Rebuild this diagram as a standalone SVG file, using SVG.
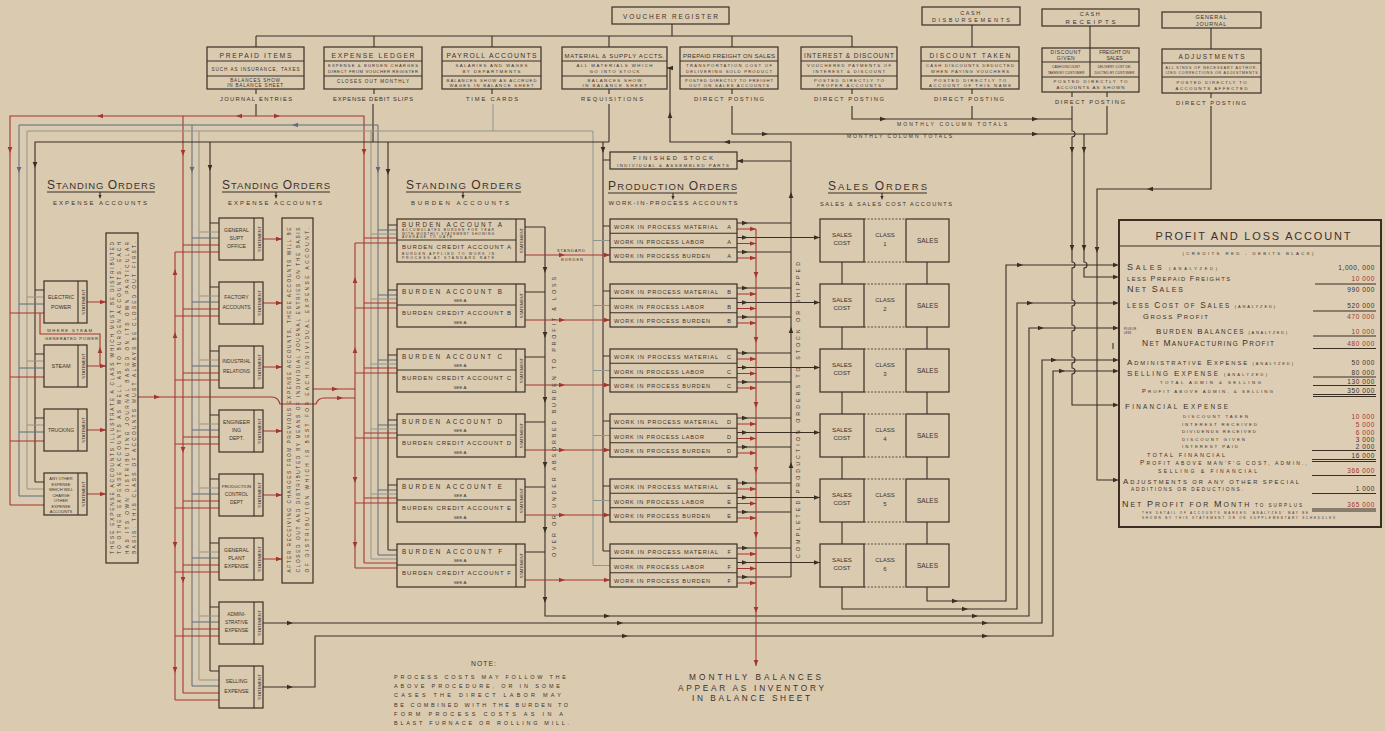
<svg xmlns="http://www.w3.org/2000/svg" width="1385" height="731" viewBox="0 0 1385 731">
<style>
text{font-family:"Liberation Sans",Arial,sans-serif;fill:#3d322a}
.bx{fill:none;stroke:#3b2e25;stroke-width:1.2}
.k{fill:none;stroke:#3b2e25;stroke-width:1.1}
.r{fill:none;stroke:#a5352f;stroke-width:1.1}
.s{fill:none;stroke:#5d6c7c;stroke-width:1}
.g{fill:none;stroke:#8f958f;stroke-width:1}
.d{fill:none;stroke:#3b2e25;stroke-width:0.8;stroke-dasharray:2 1.5}
.fk{fill:#3b2e25}
.fr{fill:#a5352f}
.fs{fill:#5d6c7c}
.m{text-anchor:middle}
.e{text-anchor:end}
.st{font-size:4.3px;text-anchor:middle}
.red{fill:#a5352f}
.n{font-size:6.5px;text-anchor:end;letter-spacing:0.6px}
</style>
<defs>
<path id="a" d="M3,0 L-3,-2.3 L-3,2.3 Z"/>
</defs>
<rect x="0" y="0" width="1385" height="731" fill="#dacab0"/>

<!-- ===== TOP SOURCE BOXES ===== -->
<g id="voucher-register"><rect class="bx" x="612" y="7" width="117" height="17"/><text class="m" x="670.5" y="18.5" font-size="6.5" textLength="95">VOUCHER REGISTER</text></g>
<g id="cash-disbursements"><rect class="bx" x="922" y="7" width="98" height="18"/><text class="m" x="971" y="14.5" font-size="5.5" letter-spacing="1.5">CASH</text><text class="m" x="971" y="22" font-size="5.5" textLength="78">DISBURSEMENTS</text></g>
<g id="cash-receipts"><rect class="bx" x="1042" y="9" width="97" height="17"/><text class="m" x="1090.5" y="16" font-size="5.5" letter-spacing="1.5">CASH</text><text class="m" x="1090.5" y="23.5" font-size="6" textLength="50">RECEIPTS</text></g>
<g id="general-journal"><rect class="bx" x="1162" y="12" width="99" height="16"/><text class="m" x="1211.5" y="18.5" font-size="5.5" letter-spacing="0.8">GENERAL</text><text class="m" x="1211.5" y="26" font-size="5.5" letter-spacing="0.8">JOURNAL</text></g>

<g id="prepaid-items"><rect class="bx" x="207" y="47" width="97" height="42"/><path class="k" d="M207,61H304M207,76H304"/>
<text class="m" x="255.5" y="57.5" font-size="6.8" textLength="72">PREPAID ITEMS</text>
<text class="m" x="255.5" y="70.5" font-size="4.6" textLength="88">SUCH AS INSURANCE, TAXES</text>
<text class="m" x="255.5" y="81.5" font-size="4.6" letter-spacing="0.8">BALANCES SHOW</text>
<text class="m" x="255.5" y="87" font-size="4.6" letter-spacing="0.8">IN BALANCE SHEET</text></g>

<g id="expense-ledger"><rect class="bx" x="324" y="47" width="98" height="42"/><path class="k" d="M324,61H422M324,76H422"/>
<text class="m" x="373" y="57.5" font-size="6.8" textLength="83">EXPENSE LEDGER</text>
<text class="m" x="373" y="67" font-size="4.2" textLength="90">EXPENSE &amp; BURDEN CHARGES</text>
<text class="m" x="373" y="73" font-size="4.2" textLength="90">DIRECT FROM VOUCHER REGISTER</text>
<text class="m" x="373" y="83" font-size="4.6" textLength="72">CLOSES OUT MONTHLY</text></g>

<g id="payroll-accounts"><rect class="bx" x="442" y="47" width="99" height="42"/><path class="k" d="M442,61H541M442,76H541"/>
<text class="m" x="491.5" y="57.5" font-size="6.8" textLength="90">PAYROLL ACCOUNTS</text>
<text class="m" x="491.5" y="67" font-size="4.4" textLength="72">SALARIES AND WAGES</text>
<text class="m" x="491.5" y="73" font-size="4.4" textLength="58">BY DEPARTMENTS</text>
<text class="m" x="491.5" y="81.5" font-size="4.2" textLength="90">BALANCES SHOW AS ACCRUED</text>
<text class="m" x="491.5" y="87" font-size="4.2" textLength="84">WAGES IN BALANCE SHEET</text></g>

<g id="material-supply"><rect class="bx" x="562" y="47" width="105" height="42"/><path class="k" d="M562,61H667M562,76H667"/>
<text class="m" x="614.5" y="57.5" font-size="6" textLength="100">MATERIAL &amp; SUPPLY ACCTS.</text>
<text class="m" x="614.5" y="67" font-size="4.4" textLength="76">ALL MATERIALS WHICH</text>
<text class="m" x="614.5" y="73" font-size="4.4" textLength="50">GO INTO STOCK</text>
<text class="m" x="614.5" y="81.5" font-size="4.4" textLength="54">BALANCES SHOW</text>
<text class="m" x="614.5" y="87" font-size="4.4" textLength="64">IN BALANCE SHEET</text></g>

<g id="prepaid-freight"><rect class="bx" x="680" y="47" width="98" height="42"/><path class="k" d="M680,61H778M680,76H778"/>
<text class="m" x="729" y="57.5" font-size="6" textLength="92">PREPAID FREIGHT ON SALES</text>
<text class="m" x="729" y="67" font-size="4.2" textLength="86">TRANSPORTATION COST OF</text>
<text class="m" x="729" y="73" font-size="4.2" textLength="86">DELIVERING SOLD PRODUCT</text>
<text class="m" x="729" y="81.5" font-size="4.2" textLength="88">POSTED DIRECTLY TO FREIGHT</text>
<text class="m" x="729" y="87" font-size="4.2" textLength="80">OUT ON SALES ACCOUNTS</text></g>

<g id="interest-discount"><rect class="bx" x="801" y="47" width="96" height="42"/><path class="k" d="M801,61H897M801,76H897"/>
<text class="m" x="849" y="57.5" font-size="6.5" textLength="90">INTEREST &amp; DISCOUNT</text>
<text class="m" x="849" y="67" font-size="4.2" textLength="84">VOUCHERED PAYMENTS OF</text>
<text class="m" x="849" y="73" font-size="4.2" textLength="72">INTEREST &amp; DISCOUNT</text>
<text class="m" x="849" y="81.5" font-size="4.2" textLength="70">POSTED DIRECTLY TO</text>
<text class="m" x="849" y="87" font-size="4.2" textLength="64">PROPER ACCOUNTS</text></g>

<g id="discount-taken"><rect class="bx" x="921" y="47" width="98" height="42"/><path class="k" d="M921,61H1019M921,76H1019"/>
<text class="m" x="970" y="57.5" font-size="6.5" textLength="81">DISCOUNT TAKEN</text>
<text class="m" x="970" y="67" font-size="4.2" textLength="88">CASH DISCOUNTS DEDUCTED</text>
<text class="m" x="970" y="73" font-size="4.2" textLength="78">WHEN PAYING VOUCHERS</text>
<text class="m" x="970" y="81.5" font-size="4.2" textLength="72">POSTED DIRECTLY TO</text>
<text class="m" x="970" y="87" font-size="4.2" textLength="82">ACCOUNT OF THIS NAME</text></g>

<g id="cash-receipts-detail"><rect class="bx" x="1042" y="48" width="97" height="44"/><path class="k" d="M1042,62H1139M1042,77H1139M1090,48V77"/>
<text class="m" x="1066" y="54" font-size="5" letter-spacing="0.6">DISCOUNT</text>
<text class="m" x="1066" y="60" font-size="5" letter-spacing="0.6">GIVEN</text>
<text class="m" x="1114.5" y="54" font-size="5">FREIGHT ON</text>
<text class="m" x="1114.5" y="60" font-size="5">SALES</text>
<text class="m" x="1066" y="68" font-size="3.4">CASH DISCOUNT</text>
<text class="m" x="1066" y="73.5" font-size="3.4">TAKEN BY CUSTOMER</text>
<text class="m" x="1114.5" y="68" font-size="3.4">DELIVERY COST DE-</text>
<text class="m" x="1114.5" y="73.5" font-size="3.4">DUCTED BY CUSTOMER</text>
<text class="m" x="1090.5" y="83" font-size="4.4" textLength="74">POSTED DIRECTLY TO</text>
<text class="m" x="1090.5" y="89" font-size="4.4" textLength="68">ACCOUNTS AS SHOWN</text></g>

<g id="adjustments"><rect class="bx" x="1162" y="49" width="99" height="44"/><path class="k" d="M1162,63H1261M1162,77H1261"/>
<text class="m" x="1211.5" y="59" font-size="6.5" textLength="66">ADJUSTMENTS</text>
<text class="m" x="1211.5" y="68.5" font-size="3.5" textLength="92">ALL KINDS OF NECESSARY AUTHOR-</text>
<text class="m" x="1211.5" y="74" font-size="3.5" textLength="92">IZED CORRECTIONS OR ADJUSTMENTS</text>
<text class="m" x="1211.5" y="83.5" font-size="4.3" textLength="70">POSTED DIRECTLY TO</text>
<text class="m" x="1211.5" y="89.5" font-size="4.3" textLength="72">ACCOUNTS AFFECTED</text></g>

<g id="posting-labels" font-size="5.8">
<text class="m" x="256" y="101" textLength="72">JOURNAL ENTRIES</text>
<text class="m" x="373" y="101" textLength="80">EXPENSE DEBIT SLIPS</text>
<text class="m" x="492" y="101" textLength="52">TIME CARDS</text>
<text class="m" x="612" y="101" textLength="62">REQUISITIONS</text>
<text class="m" x="729" y="101" textLength="70">DIRECT POSTING</text>
<text class="m" x="849" y="101" textLength="70">DIRECT POSTING</text>
<text class="m" x="969" y="101" textLength="70">DIRECT POSTING</text>
<text class="m" x="1090" y="104" textLength="70">DIRECT POSTING</text>
<text class="m" x="1211" y="105" textLength="70">DIRECT POSTING</text>
<text x="897" y="126" font-size="5" textLength="110">MONTHLY COLUMN TOTALS</text>
<text x="847" y="138" font-size="5" textLength="105">MONTHLY COLUMN TOTALS</text>
</g>

<!-- ===== SECTION TITLES ===== -->
<g id="title-standing-orders-1">
<text x="47" y="189" font-size="9.5" textLength="108"><tspan font-size="12">S</tspan>TANDING <tspan font-size="12">O</tspan>RDERS</text>
<path class="k" d="M47,192H155M100,192V196"/>
<text class="m" x="100" y="205" font-size="6" textLength="94">EXPENSE ACCOUNTS</text></g>
<g id="title-standing-orders-2">
<text x="222" y="189" font-size="9.5" textLength="108"><tspan font-size="12">S</tspan>TANDING <tspan font-size="12">O</tspan>RDERS</text>
<path class="k" d="M222,192H330M276,192V196"/>
<text class="m" x="275" y="205" font-size="6" textLength="94">EXPENSE ACCOUNTS</text></g>
<g id="title-standing-orders-3">
<text x="406" y="189" font-size="9.5" textLength="115"><tspan font-size="12">S</tspan>TANDING <tspan font-size="12">O</tspan>RDERS</text>
<path class="k" d="M406,192H521M463,192V196"/>
<text class="m" x="460" y="205" font-size="6" textLength="98">BURDEN ACCOUNTS</text></g>
<g id="title-production-orders">
<text x="608" y="190" font-size="9.5" textLength="129"><tspan font-size="12">P</tspan>RODUCTION <tspan font-size="12">O</tspan>RDERS</text>
<path class="k" d="M608,193H737M673,193V197"/>
<text class="m" x="673" y="205" font-size="6" textLength="129">WORK-IN-PROCESS ACCOUNTS</text></g>
<g id="title-sales-orders">
<text x="828" y="190" font-size="9.5" textLength="99"><tspan font-size="12">S</tspan>ALES <tspan font-size="12">O</tspan>RDERS</text>
<path class="k" d="M828,193H927M882,193V197"/>
<text class="m" x="886" y="206" font-size="5.6" textLength="132">SALES &amp; SALES COST ACCOUNTS</text></g>

<!-- ===== CONNECTORS ===== -->
<g id="connectors">
<path class="k" d="M672,24V36M256,36H852M256,36V47M374,36V47M492,36V47M609,36V47M732,36V47M852,36V47M972,25V47M1090,26V48M1211,28V49"/>
<path class="k" d="M256,89V94M374,89V94M492,89V94M609,89V94M732,89V94M852,89V94M972,89V94M1072,92V97M1107,92V97M1211,93V98"/>
<path class="k" d="M256,104V116M373,104V142M609,104V142"/>
<path class="g" d="M493,104V131"/>
<path class="k" d="M852,106V119H1072M972,106V119"/>
<path class="k" d="M1072,106V131a3,3 0 0 1 0,6V262a3,3 0 0 1 0,6V300a3,3 0 0 1 0,6V325a3,3 0 0 1 0,6V357a3,3 0 0 1 0,6V368a3,3 0 0 1 0,6V405H1116"/>
<path class="k" d="M732,106V134H1107V106"/>
<path class="k" d="M1084,134V262a3,3 0 0 1 0,6V277H1116"/>
<path class="k" d="M1211,106V189H1097V480H1116"/>
<path class="k" d="M1113,343V349"/>

<path class="r" d="M10,505V116H364V563"/>
<path class="r" d="M183,116V693"/>
<path class="r" d="M175,252V700"/>
<path class="r" d="M355,243V568"/>
<path class="s" d="M19,496V125H378V555"/>
<path class="s" d="M192,125V686"/>
<path class="g" d="M27,489V131H593V565.5"/>
<path class="g" d="M199,131V680M371,131V559"/>
<path class="k" d="M35,482V142H609"/>
<path class="k" d="M210,142V671M388,142V550M603,142V551"/>

<path class="k" d="M35,290H44M35,354H44M35,418H44M35,482H44"/>
<path class="g" d="M27,297H44M27,361H44M27,425H44M27,489H44"/>
<path class="s" d="M19,304H44M19,368H44M19,432H44M19,496H44"/>
<path class="r" d="M10,313H44M10,377H44M10,441H44M10,505H44"/>
<path class="r" d="M87,302H106M87,366H106M87,430H106M87,494H106"/>
<path class="r" d="M100,366V334H40V313"/>
<path class="r" d="M138,397H272Q278,397 280,404H316Q318,398 324,398H355"/>

<path class="k" d="M210,223H219M210,287H219M210,351H219M210,415H219M210,479H219M210,543H219M210,607H219M210,671H219"/>
<path class="g" d="M199,232H219M199,296H219M199,360H219M199,424H219M199,488H219M199,552H219M199,616H219M199,680H219"/>
<path class="s" d="M192,238H219M192,302H219M192,366H219M192,430H219M192,494H219M192,558H219M192,622H219M192,686H219"/>
<path class="r" d="M183,245H219M183,309H219M183,373H219M183,437H219M183,501H219M183,565H219M183,629H219M183,693H219"/>
<path class="r" d="M175,252H219M175,316H219M175,380H219M175,444H219M175,508H219M175,572H219M175,636H219M175,700H219"/>
<path class="r" d="M263,239H282M263,303H282M263,367H282M263,431H282M263,495H282M263,559H282"/>
<path class="r" d="M313,389H355"/>
<path class="k" d="M263,623H1042V360H1116"/>
<path class="k" d="M263,687H315V636H1053V371H1116"/>

<path class="k" d="M388,225H397M388,290H397M388,355H397M388,420H397M388,485H397M388,550H397"/>
<path class="s" d="M378,230H397M378,295H397M378,360H397M378,425H397M378,490H397M378,555H397"/>
<path class="g" d="M371,234H397M371,299H397M371,364H397M371,429H397M371,494H397M371,559H397"/>
<path class="r" d="M364,238H397M364,303H397M364,368H397M364,433H397M364,498H397M364,563H397"/>
<path class="r" d="M355,243H397M355,308H397M355,373H397M355,438H397M355,503H397M355,568H397"/>
<path class="k" d="M525,227H545M525,292H545M525,357H545M525,422H545M525,487H545M525,552H545"/>
<path class="k" d="M545,227V616H1029V328H1116"/>
<path class="r" d="M525,255H610M525,320H610M525,385H610M525,450H610M525,515H610M525,580H610"/>

<path class="k" d="M603,160H610M603,226H610M603,291H610M603,356H610M603,421H610M603,486H610M603,551H610"/>
<path class="g" d="M593,240.5H610M593,305.5H610M593,370.5H610M593,435.5H610M593,500.5H610M593,565.5H610"/>
<path class="k" d="M737,223H791M737,252H791M737,288H791M737,317H791M737,353H791M737,382H791M737,418H791M737,447H791M737,483H791M737,512H791M737,548H791M737,577H791"/>
<path class="k" d="M737,237.5H820M737,302.5H820M737,367.5H820M737,432.5H820M737,497.5H820M737,562.5H820"/>
<path class="r" d="M737,229H756M737,243.5H756M737,258H756M737,294H756M737,308.5H756M737,323H756M737,359H756M737,373.5H756M737,388H756M737,424H756M737,438.5H756M737,453H756M737,489H756M737,503.5H756M737,518H756M737,554H756M737,568.5H756M737,583H756"/>
<path class="r" d="M756,229V666"/>
<path class="k" d="M791,577V142H670V68H667M791,161H737"/>

<path class="k" d="M842,262V284M842,327V349M842,392V414M842,457V479M842,522V544M927,262V284M927,327V349M927,392V414M927,457V479M927,522V544"/>
<path class="k" d="M842,587V609H1017V303H1116"/>
<path class="k" d="M927,587V601H1006V265H1116"/>

<g class="fr">
<use href="#a" transform="translate(10,150) rotate(90)"/>
<use href="#a" transform="translate(364,152) rotate(90)"/>
<use href="#a" transform="translate(183,153) rotate(90)"/>
<use href="#a" transform="translate(183,450) rotate(90)"/>
<use href="#a" transform="translate(183,580) rotate(90)"/>
<use href="#a" transform="translate(100,116) rotate(180)"/>
<use href="#a" transform="translate(239,116) rotate(180)"/>
<use href="#a" transform="translate(277,116)"/>
<use href="#a" transform="translate(175,272) rotate(-90)"/>
<use href="#a" transform="translate(175,335) rotate(-90)"/>
<use href="#a" transform="translate(175,545) rotate(90)"/>
<use href="#a" transform="translate(175,670) rotate(90)"/>
<use href="#a" transform="translate(355,280) rotate(-90)"/>
<use href="#a" transform="translate(355,350) rotate(-90)"/>
<use href="#a" transform="translate(355,480) rotate(90)"/>
<use href="#a" transform="translate(355,545) rotate(90)"/>
<use href="#a" transform="translate(103,302)"/>
<use href="#a" transform="translate(103,366)"/>
<use href="#a" transform="translate(103,430)"/>
<use href="#a" transform="translate(103,494)"/>
<use href="#a" transform="translate(100,350) rotate(-90)"/>
<use href="#a" transform="translate(157,397)"/>
<use href="#a" transform="translate(340,398)"/>
<use href="#a" transform="translate(335,389)"/>
<use href="#a" transform="translate(279,239)"/>
<use href="#a" transform="translate(279,303)"/>
<use href="#a" transform="translate(279,367)"/>
<use href="#a" transform="translate(279,431)"/>
<use href="#a" transform="translate(279,495)"/>
<use href="#a" transform="translate(279,559)"/>
<use href="#a" transform="translate(562,255)"/><use href="#a" transform="translate(607,255)"/>
<use href="#a" transform="translate(562,320)"/><use href="#a" transform="translate(607,320)"/>
<use href="#a" transform="translate(562,385)"/><use href="#a" transform="translate(607,385)"/>
<use href="#a" transform="translate(562,450)"/><use href="#a" transform="translate(607,450)"/>
<use href="#a" transform="translate(562,515)"/><use href="#a" transform="translate(607,515)"/>
<use href="#a" transform="translate(562,580)"/><use href="#a" transform="translate(607,580)"/>
<use href="#a" transform="translate(753,229)"/><use href="#a" transform="translate(753,243.5)"/><use href="#a" transform="translate(753,258)"/>
<use href="#a" transform="translate(753,294)"/><use href="#a" transform="translate(753,308.5)"/><use href="#a" transform="translate(753,323)"/>
<use href="#a" transform="translate(753,359)"/><use href="#a" transform="translate(753,373.5)"/><use href="#a" transform="translate(753,388)"/>
<use href="#a" transform="translate(753,424)"/><use href="#a" transform="translate(753,438.5)"/><use href="#a" transform="translate(753,453)"/>
<use href="#a" transform="translate(753,489)"/><use href="#a" transform="translate(753,503.5)"/><use href="#a" transform="translate(753,518)"/>
<use href="#a" transform="translate(753,554)"/><use href="#a" transform="translate(753,568.5)"/><use href="#a" transform="translate(753,583)"/>
<use href="#a" transform="translate(756,275) rotate(90)"/>
<use href="#a" transform="translate(756,340) rotate(90)"/>
<use href="#a" transform="translate(756,405) rotate(90)"/>
<use href="#a" transform="translate(756,470) rotate(90)"/>
<use href="#a" transform="translate(756,535) rotate(90)"/>
<use href="#a" transform="translate(756,610) rotate(90)"/>
<use href="#a" transform="translate(756,663) rotate(90)"/>
</g>
<g class="fs">
<use href="#a" transform="translate(295,125) rotate(180)"/>
<use href="#a" transform="translate(19,170) rotate(90)"/>
<use href="#a" transform="translate(192,170) rotate(90)"/>
<use href="#a" transform="translate(378,170) rotate(90)"/>
</g>
<g class="fk">
<use href="#a" transform="translate(35,165) rotate(90)"/>
<use href="#a" transform="translate(210,168) rotate(90)"/>
<use href="#a" transform="translate(388,172) rotate(90)"/>
<use href="#a" transform="translate(603,150) rotate(90)"/>
<use href="#a" transform="translate(290,623)"/><use href="#a" transform="translate(620,623)"/><use href="#a" transform="translate(985,623)"/><use href="#a" transform="translate(1054,360)"/>
<use href="#a" transform="translate(290,687)"/><use href="#a" transform="translate(625,636)"/><use href="#a" transform="translate(985,636)"/><use href="#a" transform="translate(1062,371)"/>
<use href="#a" transform="translate(545,270) rotate(90)"/>
<use href="#a" transform="translate(545,335) rotate(90)"/>
<use href="#a" transform="translate(545,400) rotate(90)"/>
<use href="#a" transform="translate(545,465) rotate(90)"/>
<use href="#a" transform="translate(545,530) rotate(90)"/>
<use href="#a" transform="translate(545,600) rotate(90)"/>
<use href="#a" transform="translate(607,616)"/><use href="#a" transform="translate(975,616)"/><use href="#a" transform="translate(1041,328)"/>
<use href="#a" transform="translate(791,195) rotate(-90)"/>
<use href="#a" transform="translate(791,330) rotate(-90)"/>
<use href="#a" transform="translate(791,465) rotate(-90)"/>
<use href="#a" transform="translate(727,142) rotate(180)"/>
<use href="#a" transform="translate(670,115) rotate(-90)"/>
<use href="#a" transform="translate(670,68) rotate(180)"/>
<use href="#a" transform="translate(740,161) rotate(180)"/>
<use href="#a" transform="translate(745,223)"/><use href="#a" transform="translate(745,237.5)"/><use href="#a" transform="translate(745,252)"/>
<use href="#a" transform="translate(745,288)"/><use href="#a" transform="translate(745,302.5)"/><use href="#a" transform="translate(745,317)"/>
<use href="#a" transform="translate(745,353)"/><use href="#a" transform="translate(745,367.5)"/><use href="#a" transform="translate(745,382)"/>
<use href="#a" transform="translate(745,418)"/><use href="#a" transform="translate(745,432.5)"/><use href="#a" transform="translate(745,447)"/>
<use href="#a" transform="translate(745,483)"/><use href="#a" transform="translate(745,497.5)"/><use href="#a" transform="translate(745,512)"/>
<use href="#a" transform="translate(745,548)"/><use href="#a" transform="translate(745,562.5)"/><use href="#a" transform="translate(745,577)"/>
<use href="#a" transform="translate(817,237.5)"/><use href="#a" transform="translate(817,302.5)"/><use href="#a" transform="translate(817,367.5)"/>
<use href="#a" transform="translate(817,432.5)"/><use href="#a" transform="translate(817,497.5)"/><use href="#a" transform="translate(817,562.5)"/>
<use href="#a" transform="translate(955,601)"/><use href="#a" transform="translate(965,609)"/><use href="#a" transform="translate(1020,265)"/><use href="#a" transform="translate(1030,303)"/>
<use href="#a" transform="translate(883,119)"/><use href="#a" transform="translate(1035,119)"/>
<use href="#a" transform="translate(765,134)"/><use href="#a" transform="translate(1035,134)"/>
<use href="#a" transform="translate(1072,150) rotate(90)"/><use href="#a" transform="translate(1072,248) rotate(90)"/>
<use href="#a" transform="translate(1084,150) rotate(90)"/><use href="#a" transform="translate(1084,248) rotate(90)"/>
<use href="#a" transform="translate(1150,189) rotate(180)"/><use href="#a" transform="translate(1097,250) rotate(90)"/>
<use href="#a" transform="translate(1116,265)"/><use href="#a" transform="translate(1116,277)"/><use href="#a" transform="translate(1116,303)"/><use href="#a" transform="translate(1116,328)"/>
<use href="#a" transform="translate(1116,360)"/><use href="#a" transform="translate(1116,371)"/><use href="#a" transform="translate(1116,405)"/><use href="#a" transform="translate(1116,480)"/>
<use href="#a" transform="translate(100,197) rotate(90) scale(0.7)"/>
<use href="#a" transform="translate(276,197) rotate(90) scale(0.7)"/>
<use href="#a" transform="translate(463,197) rotate(90) scale(0.7)"/>
<use href="#a" transform="translate(673,198) rotate(90) scale(0.7)"/>
<use href="#a" transform="translate(882,198) rotate(90) scale(0.7)"/>
</g>
</g>

<!-- ===== STANDING ORDERS 1 ===== -->
<g id="electric-power"><rect class="bx" x="44" y="281" width="43" height="42" fill="#dacab0"/><path class="k" d="M78,281V323"/><text class="m" x="61" y="299" font-size="5.3">ELECTRIC</text><text class="m" x="61" y="309" font-size="5.3">POWER</text><text class="st" transform="translate(85,302) rotate(-90)">STATEMENT</text></g>
<text x="47" y="331.5" font-size="4.2" textLength="45">WHERE STEAM</text>
<text x="45" y="340" font-size="4.2" textLength="53">GENERATED POWER</text>
<g id="steam"><rect class="bx" x="44" y="345" width="43" height="42"/><path class="k" d="M78,345V387"/><text class="m" x="61" y="368" font-size="5.5">STEAM</text><text class="st" transform="translate(85,366) rotate(-90)">STATEMENT</text></g>
<g id="trucking"><rect class="bx" x="44" y="409" width="43" height="42"/><path class="k" d="M78,409V451"/><text class="m" x="61" y="432" font-size="5">TRUCKING</text><text class="st" transform="translate(85,430) rotate(-90)">STATEMENT</text></g>
<g id="any-other-expense"><rect class="bx" x="44" y="473" width="43" height="42"/><path class="k" d="M78,473V515"/>
<text class="m" x="61" y="480" font-size="4">ANY OTHER</text><text class="m" x="61" y="485.5" font-size="4">EXPENSE</text><text class="m" x="61" y="491" font-size="4">WHICH WILL</text><text class="m" x="61" y="496.5" font-size="4">CHARGE</text><text class="m" x="61" y="502" font-size="4">OTHER</text><text class="m" x="61" y="507.5" font-size="4">EXPENSE</text><text class="m" x="61" y="513" font-size="4">ACCOUNTS</text>
<text class="st" transform="translate(85,494) rotate(-90)">STATEMENT</text></g>
<g id="note-box-1"><rect class="bx" x="106" y="233" width="32" height="330" fill="#dacab0"/>
<text class="m" transform="translate(114,398) rotate(-90)" font-size="4.8" textLength="312">THESE EXPENSE ACCOUNTS ILLUSTRATE A CLASS WHICH MUST BE DISTRIBUTED</text>
<text class="m" transform="translate(121.3,398) rotate(-90)" font-size="4.8" textLength="312">TO OTHER EXPENSE ACCOUNTS AS WELL AS TO BURDEN ACCOUNTS. EACH</text>
<text class="m" transform="translate(128.6,398) rotate(-90)" font-size="4.8" textLength="312">HAS ITS OWN DISTRIBUTING JOURNAL BASED ON ITS OWN PARTICULAR</text>
<text class="m" transform="translate(135.9,398) rotate(-90)" font-size="4.8" textLength="312">BASIS. THIS CLASS OF ACCOUNTS MUST ALWAYS BE CLOSED OUT FIRST.</text></g>

<!-- ===== STANDING ORDERS 2 ===== -->
<g id="general-supt-office"><rect class="bx" x="219" y="218" width="44" height="42"/><path class="k" d="M254,218V260"/><text class="m" x="236.5" y="232" font-size="5.2">GENERAL</text><text class="m" x="236.5" y="240" font-size="5.2">SUPT</text><text class="m" x="236.5" y="248" font-size="5.2">OFFICE</text><text class="st" transform="translate(261,239) rotate(-90)">STATEMENT</text></g>
<g id="factory-accounts"><rect class="bx" x="219" y="282" width="44" height="42"/><path class="k" d="M254,282V324"/><text class="m" x="236.5" y="299" font-size="5.2">FACTORY</text><text class="m" x="236.5" y="309" font-size="5">ACCOUNTS</text><text class="st" transform="translate(261,303) rotate(-90)">STATEMENT</text></g>
<g id="industrial-relations"><rect class="bx" x="219" y="346" width="44" height="42"/><path class="k" d="M254,346V388"/><text class="m" x="236.5" y="363" font-size="4.8">INDUSTRIAL</text><text class="m" x="236.5" y="373" font-size="4.8">RELATIONS</text><text class="st" transform="translate(261,367) rotate(-90)">STATEMENT</text></g>
<g id="engineering-dept"><rect class="bx" x="219" y="410" width="44" height="42"/><path class="k" d="M254,410V452"/><text class="m" x="236.5" y="424" font-size="5.2">ENGINEER</text><text class="m" x="236.5" y="432" font-size="5.2">ING</text><text class="m" x="236.5" y="440" font-size="5.2">DEPT.</text><text class="st" transform="translate(261,431) rotate(-90)">STATEMENT</text></g>
<g id="production-control-dept"><rect class="bx" x="219" y="474" width="44" height="42"/><path class="k" d="M254,474V516"/><text class="m" x="236.5" y="488" font-size="4.4">PRODUCTION</text><text class="m" x="236.5" y="496" font-size="4.8">CONTROL</text><text class="m" x="236.5" y="504" font-size="4.8">DEPT</text><text class="st" transform="translate(261,495) rotate(-90)">STATEMENT</text></g>
<g id="general-plant-expense"><rect class="bx" x="219" y="538" width="44" height="42"/><path class="k" d="M254,538V580"/><text class="m" x="236.5" y="552" font-size="5.2">GENERAL</text><text class="m" x="236.5" y="560" font-size="5.2">PLANT</text><text class="m" x="236.5" y="568" font-size="5.2">EXPENSE</text><text class="st" transform="translate(261,559) rotate(-90)">STATEMENT</text></g>
<g id="administrative-expense"><rect class="bx" x="219" y="602" width="44" height="42"/><path class="k" d="M254,602V644"/><text class="m" x="236.5" y="616" font-size="4.8">ADMINI-</text><text class="m" x="236.5" y="624" font-size="4.8">STRATIVE</text><text class="m" x="236.5" y="632" font-size="5">EXPENSE</text><text class="st" transform="translate(261,623) rotate(-90)">STATEMENT</text></g>
<g id="selling-expense"><rect class="bx" x="219" y="666" width="44" height="42"/><path class="k" d="M254,666V708"/><text class="m" x="236.5" y="683" font-size="5.2">SELLING</text><text class="m" x="236.5" y="693" font-size="5.2">EXPENSE</text><text class="st" transform="translate(261,687) rotate(-90)">STATEMENT</text></g>
<g id="note-box-2"><rect class="bx" x="282" y="218" width="31" height="365" fill="#dacab0"/>
<text class="m" transform="translate(291,400) rotate(-90)" font-size="4.8" textLength="345">AFTER RECEIVING CHARGES FROM PREVIOUS EXPENSE ACCOUNTS, THESE ACCOUNTS WILL BE</text>
<text class="m" transform="translate(300,400) rotate(-90)" font-size="4.8" textLength="345">CLOSED OUT AND DISTRIBUTED BY MEANS OF INDIVIDUAL JOURNAL ENTRIES ON THE BASIS</text>
<text class="m" transform="translate(309,400) rotate(-90)" font-size="4.8" textLength="345">OF DISTRIBUTION WHICH IS BEST FOR EACH INDIVIDUAL EXPENSE ACCOUNT.</text></g>

<!-- ===== STANDING ORDERS 3 : BURDEN ===== -->
<g id="burden-a"><rect class="bx" x="397" y="219" width="128" height="43" fill="#dacab0"/><path class="k" d="M516,219V262M397,240H516"/>
<text x="402" y="226.5" font-size="6.3" textLength="100">BURDEN ACCOUNT  A</text>
<text x="402" y="231" font-size="3.3" textLength="92">ACCUMULATES BURDEN FOR YEAR</text>
<text x="402" y="234.5" font-size="3.3" textLength="92">WITH MONTHLY STATEMENT SHOWING</text>
<text x="402" y="238" font-size="3.3" textLength="50">AVERAGE TO DATE</text>
<text x="402" y="248.5" font-size="6" textLength="109">BURDEN CREDIT ACCOUNT  A</text>
<text x="402" y="254.5" font-size="3.5" textLength="92">BURDEN APPLIED TO WORK IN</text>
<text x="402" y="258.8" font-size="3.5" textLength="92">PROCESS AT STANDARD RATE</text>
<text class="st" transform="translate(523,240.5) rotate(-90)">STATEMENT</text></g>
<g id="burden-b"><rect class="bx" x="397" y="284" width="128" height="43" fill="#dacab0"/><path class="k" d="M516,284V327M397,305H516"/>
<text x="402" y="293.5" font-size="6.3" textLength="100">BURDEN ACCOUNT  B</text><text class="m" x="460" y="302" font-size="4.4">SEE A</text>
<text x="402" y="315" font-size="6" textLength="109">BURDEN CREDIT ACCOUNT  B</text><text class="m" x="460" y="324" font-size="4.4">SEE A</text>
<text class="st" transform="translate(523,305.5) rotate(-90)">STATEMENT</text></g>
<g id="burden-c"><rect class="bx" x="397" y="349" width="128" height="43" fill="#dacab0"/><path class="k" d="M516,349V392M397,370H516"/>
<text x="402" y="358.5" font-size="6.3" textLength="100">BURDEN ACCOUNT  C</text><text class="m" x="460" y="367" font-size="4.4">SEE A</text>
<text x="402" y="380" font-size="6" textLength="109">BURDEN CREDIT ACCOUNT  C</text><text class="m" x="460" y="389" font-size="4.4">SEE A</text>
<text class="st" transform="translate(523,370.5) rotate(-90)">STATEMENT</text></g>
<g id="burden-d"><rect class="bx" x="397" y="414" width="128" height="43" fill="#dacab0"/><path class="k" d="M516,414V457M397,435H516"/>
<text x="402" y="423.5" font-size="6.3" textLength="100">BURDEN ACCOUNT  D</text><text class="m" x="460" y="432" font-size="4.4">SEE A</text>
<text x="402" y="445" font-size="6" textLength="109">BURDEN CREDIT ACCOUNT  D</text><text class="m" x="460" y="454" font-size="4.4">SEE A</text>
<text class="st" transform="translate(523,435.5) rotate(-90)">STATEMENT</text></g>
<g id="burden-e"><rect class="bx" x="397" y="479" width="128" height="43" fill="#dacab0"/><path class="k" d="M516,479V522M397,500H516"/>
<text x="402" y="488.5" font-size="6.3" textLength="100">BURDEN ACCOUNT  E</text><text class="m" x="460" y="497" font-size="4.4">SEE A</text>
<text x="402" y="510" font-size="6" textLength="109">BURDEN CREDIT ACCOUNT  E</text><text class="m" x="460" y="519" font-size="4.4">SEE A</text>
<text class="st" transform="translate(523,500.5) rotate(-90)">STATEMENT</text></g>
<g id="burden-f"><rect class="bx" x="397" y="544" width="128" height="43" fill="#dacab0"/><path class="k" d="M516,544V587M397,565H516"/>
<text x="402" y="553.5" font-size="6.3" textLength="100">BURDEN ACCOUNT  F</text><text class="m" x="460" y="562" font-size="4.4">SEE A</text>
<text x="402" y="575" font-size="6" textLength="109">BURDEN CREDIT ACCOUNT  F</text><text class="m" x="460" y="584" font-size="4.4">SEE A</text>
<text class="st" transform="translate(523,565.5) rotate(-90)">STATEMENT</text></g>
<text x="557" y="252" font-size="4" textLength="28">STANDARD</text>
<text x="561" y="261" font-size="4" textLength="22">BURDEN</text>
<text class="m" transform="translate(556,417) rotate(-90)" font-size="5.3" textLength="280">OVER OR UNDER ABSORBED BURDEN TO PROFIT &amp; LOSS</text>

<!-- ===== PRODUCTION ORDERS ===== -->
<g id="finished-stock"><rect class="bx" x="610" y="152" width="127" height="17" fill="#dacab0"/><text class="m" x="673" y="159.5" font-size="5.8" textLength="80">FINISHED STOCK</text><text class="m" x="673" y="166.5" font-size="4.4" textLength="112">INDIVIDUAL &amp; ASSEMBLED PARTS</text></g>
<g id="wip-a"><rect class="bx" x="610" y="219" width="127" height="43" fill="#dacab0"/><path class="k" d="M610,233.3H737M610,247.7H737"/>
<text x="614" y="229" font-size="5.6" textLength="104">WORK IN PROCESS MATERIAL</text><text class="e" x="731" y="229" font-size="5.6">A</text>
<text x="614" y="243.5" font-size="5.6" textLength="90">WORK IN PROCESS LABOR</text><text class="e" x="731" y="243.5" font-size="5.6">A</text>
<text x="614" y="258" font-size="5.6" textLength="96">WORK IN PROCESS BURDEN</text><text class="e" x="731" y="258" font-size="5.6">A</text></g>
<g id="wip-b"><rect class="bx" x="610" y="284" width="127" height="43" fill="#dacab0"/><path class="k" d="M610,298.3H737M610,312.7H737"/>
<text x="614" y="294" font-size="5.6" textLength="104">WORK IN PROCESS MATERIAL</text><text class="e" x="731" y="294" font-size="5.6">B</text>
<text x="614" y="308.5" font-size="5.6" textLength="90">WORK IN PROCESS LABOR</text><text class="e" x="731" y="308.5" font-size="5.6">B</text>
<text x="614" y="323" font-size="5.6" textLength="96">WORK IN PROCESS BURDEN</text><text class="e" x="731" y="323" font-size="5.6">B</text></g>
<g id="wip-c"><rect class="bx" x="610" y="349" width="127" height="43" fill="#dacab0"/><path class="k" d="M610,363.3H737M610,377.7H737"/>
<text x="614" y="359" font-size="5.6" textLength="104">WORK IN PROCESS MATERIAL</text><text class="e" x="731" y="359" font-size="5.6">C</text>
<text x="614" y="373.5" font-size="5.6" textLength="90">WORK IN PROCESS LABOR</text><text class="e" x="731" y="373.5" font-size="5.6">C</text>
<text x="614" y="388" font-size="5.6" textLength="96">WORK IN PROCESS BURDEN</text><text class="e" x="731" y="388" font-size="5.6">C</text></g>
<g id="wip-d"><rect class="bx" x="610" y="414" width="127" height="43" fill="#dacab0"/><path class="k" d="M610,428.3H737M610,442.7H737"/>
<text x="614" y="424" font-size="5.6" textLength="104">WORK IN PROCESS MATERIAL</text><text class="e" x="731" y="424" font-size="5.6">D</text>
<text x="614" y="438.5" font-size="5.6" textLength="90">WORK IN PROCESS LABOR</text><text class="e" x="731" y="438.5" font-size="5.6">D</text>
<text x="614" y="453" font-size="5.6" textLength="96">WORK IN PROCESS BURDEN</text><text class="e" x="731" y="453" font-size="5.6">D</text></g>
<g id="wip-e"><rect class="bx" x="610" y="479" width="127" height="43" fill="#dacab0"/><path class="k" d="M610,493.3H737M610,507.7H737"/>
<text x="614" y="489" font-size="5.6" textLength="104">WORK IN PROCESS MATERIAL</text><text class="e" x="731" y="489" font-size="5.6">E</text>
<text x="614" y="503.5" font-size="5.6" textLength="90">WORK IN PROCESS LABOR</text><text class="e" x="731" y="503.5" font-size="5.6">E</text>
<text x="614" y="518" font-size="5.6" textLength="96">WORK IN PROCESS BURDEN</text><text class="e" x="731" y="518" font-size="5.6">E</text></g>
<g id="wip-f"><rect class="bx" x="610" y="544" width="127" height="43" fill="#dacab0"/><path class="k" d="M610,558.3H737M610,572.7H737"/>
<text x="614" y="554" font-size="5.6" textLength="104">WORK IN PROCESS MATERIAL</text><text class="e" x="731" y="554" font-size="5.6">F</text>
<text x="614" y="568.5" font-size="5.6" textLength="90">WORK IN PROCESS LABOR</text><text class="e" x="731" y="568.5" font-size="5.6">F</text>
<text x="614" y="583" font-size="5.6" textLength="96">WORK IN PROCESS BURDEN</text><text class="e" x="731" y="583" font-size="5.6">F</text></g>
<text class="m" transform="translate(800,410) rotate(-90)" font-size="5.3" textLength="296">COMPLETED PRODUCTION ORDERS TO STOCK OR SHIPPED</text>

<!-- ===== SALES ORDERS ===== -->
<g id="sales-class-1"><rect class="bx" x="820" y="219" width="44" height="43"/><path class="d" d="M864,219H906M864,262H906"/><rect class="bx" x="906" y="219" width="43" height="43"/>
<text class="m" x="842" y="237" font-size="6.2">SALES</text><text class="m" x="842" y="245" font-size="6.2">COST</text><text class="m" x="885" y="237" font-size="6">CLASS</text><text class="m" x="885" y="246" font-size="6">1</text><text class="m" x="927.5" y="243" font-size="6.5">SALES</text></g>
<g id="sales-class-2"><rect class="bx" x="820" y="284" width="44" height="43"/><path class="d" d="M864,284H906M864,327H906"/><rect class="bx" x="906" y="284" width="43" height="43"/>
<text class="m" x="842" y="302" font-size="6.2">SALES</text><text class="m" x="842" y="310" font-size="6.2">COST</text><text class="m" x="885" y="302" font-size="6">CLASS</text><text class="m" x="885" y="311" font-size="6">2</text><text class="m" x="927.5" y="308" font-size="6.5">SALES</text></g>
<g id="sales-class-3"><rect class="bx" x="820" y="349" width="44" height="43"/><path class="d" d="M864,349H906M864,392H906"/><rect class="bx" x="906" y="349" width="43" height="43"/>
<text class="m" x="842" y="367" font-size="6.2">SALES</text><text class="m" x="842" y="375" font-size="6.2">COST</text><text class="m" x="885" y="367" font-size="6">CLASS</text><text class="m" x="885" y="376" font-size="6">3</text><text class="m" x="927.5" y="373" font-size="6.5">SALES</text></g>
<g id="sales-class-4"><rect class="bx" x="820" y="414" width="44" height="43"/><path class="d" d="M864,414H906M864,457H906"/><rect class="bx" x="906" y="414" width="43" height="43"/>
<text class="m" x="842" y="432" font-size="6.2">SALES</text><text class="m" x="842" y="440" font-size="6.2">COST</text><text class="m" x="885" y="432" font-size="6">CLASS</text><text class="m" x="885" y="441" font-size="6">4</text><text class="m" x="927.5" y="438" font-size="6.5">SALES</text></g>
<g id="sales-class-5"><rect class="bx" x="820" y="479" width="44" height="43"/><path class="d" d="M864,479H906M864,522H906"/><rect class="bx" x="906" y="479" width="43" height="43"/>
<text class="m" x="842" y="497" font-size="6.2">SALES</text><text class="m" x="842" y="505" font-size="6.2">COST</text><text class="m" x="885" y="497" font-size="6">CLASS</text><text class="m" x="885" y="506" font-size="6">5</text><text class="m" x="927.5" y="503" font-size="6.5">SALES</text></g>
<g id="sales-class-6"><rect class="bx" x="820" y="544" width="44" height="43"/><path class="d" d="M864,544H906M864,587H906"/><rect class="bx" x="906" y="544" width="43" height="43"/>
<text class="m" x="842" y="562" font-size="6.2">SALES</text><text class="m" x="842" y="570" font-size="6.2">COST</text><text class="m" x="885" y="562" font-size="6">CLASS</text><text class="m" x="885" y="571" font-size="6">6</text><text class="m" x="927.5" y="568" font-size="6.5">SALES</text></g>

<!-- ===== PROFIT AND LOSS ===== -->
<g id="profit-and-loss">
<rect x="1119" y="220" width="262" height="307" fill="#dccdb4" stroke="#3b2e25" stroke-width="2"/>
<path class="k" d="M1119,246H1381"/>
<text class="m" x="1253" y="240" font-size="11" textLength="195">PROFIT AND LOSS ACCOUNT</text>
<text class="m" x="1248" y="254.5" font-size="4.4" textLength="131">(CREDITS RED - DEBITS BLACK)</text>
<text x="1127" y="270" font-size="7" textLength="90"><tspan font-size="9">S</tspan>ALES <tspan font-size="4">(ANALYZED)</tspan></text>
<text x="1127" y="281" font-size="5.8" textLength="103">LESS <tspan font-size="7.3">P</tspan>REPAID <tspan font-size="7.3">F</tspan>REIGHTS</text>
<text x="1127" y="292" font-size="7" textLength="56"><tspan font-size="9">N</tspan>ET <tspan font-size="9">S</tspan>ALES</text>
<text x="1127" y="308" font-size="6.3" textLength="148">LESS <tspan font-size="8.3">C</tspan>OST OF <tspan font-size="8.3">S</tspan>ALES <tspan font-size="4">(ANALYZED)</tspan></text>
<text x="1143" y="319" font-size="6" textLength="65"><tspan font-size="7.5">G</tspan>ROSS <tspan font-size="7.5">P</tspan>ROFIT</text>
<text x="1124" y="329.5" font-size="2.8">PLUS OR</text><text x="1124" y="333.5" font-size="2.8">LESS</text>
<text x="1156" y="334" font-size="6.3" textLength="131"><tspan font-size="8">B</tspan>URDEN <tspan font-size="8">B</tspan>ALANCES <tspan font-size="4">(ANALYZED)</tspan></text>
<text x="1142" y="346" font-size="6.5" textLength="132"><tspan font-size="8.5">N</tspan>ET <tspan font-size="8.5">M</tspan>ANUFACTURING <tspan font-size="8.5">P</tspan>ROFIT</text>
<text x="1127" y="365" font-size="5.8" textLength="166"><tspan font-size="8">A</tspan>DMINISTRATIVE <tspan font-size="8">E</tspan>XPENSE <tspan font-size="4">(ANALYZED)</tspan></text>
<text x="1127" y="375.5" font-size="6.3" textLength="140"><tspan font-size="8">S</tspan>ELLING <tspan font-size="8">E</tspan>XPENSE <tspan font-size="4">(ANALYZED)</tspan></text>
<text x="1160" y="383.5" font-size="4.4" textLength="101">TOTAL ADMIN &amp; SELLING</text>
<text x="1142" y="392.5" font-size="4.4" textLength="131"><tspan font-size="5.8">P</tspan>ROFIT ABOVE ADMIN. &amp; SELLING</text>
<text x="1125" y="409" font-size="6.3" textLength="103"><tspan font-size="8">F</tspan>INANCIAL <tspan font-size="8">E</tspan>XPENSE</text>
<text x="1183" y="417.5" font-size="4.4" textLength="65">DISCOUNT TAKEN</text>
<text x="1182" y="425.5" font-size="4.4" textLength="75">INTEREST RECEIVED</text>
<text x="1182" y="433" font-size="4.4" textLength="74">DIVIDENDS RECEIVED</text>
<text x="1182" y="440.5" font-size="4.4" textLength="63">DISCOUNT GIVEN</text>
<text x="1182" y="448" font-size="4.4" textLength="56">INTEREST PAID</text>
<text x="1147" y="457" font-size="5.6" textLength="78">TOTAL FINANCIAL</text>
<text x="1140" y="465" font-size="5" textLength="167"><tspan font-size="6.3">P</tspan>ROFIT ABOVE MAN'F'G COST, ADMIN.,</text>
<text x="1158" y="472.5" font-size="5" textLength="99">SELLING &amp; FINANCIAL</text>
<text x="1123" y="484" font-size="5.8" textLength="176"><tspan font-size="8">A</tspan>DJUSTMENTS OR ANY OTHER SPECIAL</text>
<text x="1131" y="491" font-size="4.8" textLength="112">ADDITIONS OR DEDUCTIONS.</text>
<text x="1122" y="507" font-size="7" textLength="180"><tspan font-size="9">N</tspan>ET <tspan font-size="9">P</tspan>ROFIT FOR <tspan font-size="9">M</tspan>ONTH <tspan font-size="4.6">TO SURPLUS</tspan></text>
<text x="1142" y="513.5" font-size="3" textLength="166">THE DETAIL OF ACCOUNTS MARKED 'ANALYZED' MAY BE</text>
<text x="1142" y="518.5" font-size="3" textLength="193">SHOWN BY THIS STATEMENT OR ON SUPPLEMENTARY SCHEDULES</text>
<text class="n" x="1375" y="270">1,000, 000</text>
<text class="n red" x="1375" y="281">10 000</text>
<text class="n" x="1375" y="292">990 000</text>
<text class="n" x="1375" y="308">520 000</text>
<text class="n red" x="1375" y="319">470 000</text>
<text class="n red" x="1375" y="334">10 000</text>
<text class="n red" x="1375" y="346">480 000</text>
<text class="n" x="1375" y="365">50 000</text>
<text class="n" x="1375" y="375">80 000</text>
<text class="n" x="1375" y="384">130 000</text>
<text class="n" x="1375" y="393">350 000</text>
<text class="n red" x="1375" y="419">10 000</text>
<text class="n red" x="1375" y="427">5 000</text>
<text class="n red" x="1375" y="434.5">6 000</text>
<text class="n" x="1375" y="441.5">3 000</text>
<text class="n" x="1375" y="449">2 000</text>
<text class="n" x="1375" y="457.5">16 000</text>
<text class="n red" x="1375" y="473">366 000</text>
<text class="n" x="1375" y="491">1 000</text>
<text class="n red" x="1375" y="507">365 000</text>
<path class="k" stroke-width="0.8" d="M1315,284H1376M1313,311H1376M1313,336H1376M1313,348.5H1376M1313,377H1376M1313,385.5H1376M1313,394.5H1376M1313,396.5H1376M1312,450.5H1376M1312,459.5H1376M1312,461.5H1376M1312,475.5H1376M1312,493.5H1376M1312,509H1376M1312,511H1376"/>
</g>

<!-- ===== NOTES ===== -->
<g id="note">
<text class="m" x="484" y="666" font-size="6.8" letter-spacing="1">NOTE:</text>
<text x="394" y="679" font-size="5.5" textLength="172">PROCESS COSTS MAY FOLLOW THE</text>
<text x="394" y="688" font-size="5.5" textLength="166">ABOVE PROCEDURE, OR IN SOME</text>
<text x="394" y="697" font-size="5.5" textLength="167">CASES THE DIRECT LABOR MAY</text>
<text x="394" y="706.5" font-size="5.5" textLength="174">BE COMBINED WITH THE BURDEN TO</text>
<text x="394" y="716" font-size="5.5" textLength="169">FORM PROCESS COSTS AS IN A</text>
<text x="394" y="725" font-size="5.5" textLength="175">BLAST FURNACE OR ROLLING MILL.</text>
</g>
<g id="monthly-balances">
<text class="m" x="755" y="680" font-size="8.3" textLength="132">MONTHLY BALANCES</text>
<text class="m" x="751" y="690.5" font-size="8.3" textLength="146">APPEAR AS INVENTORY</text>
<text class="m" x="751" y="701" font-size="8.3" textLength="118">IN BALANCE SHEET</text>
</g>
</svg>
